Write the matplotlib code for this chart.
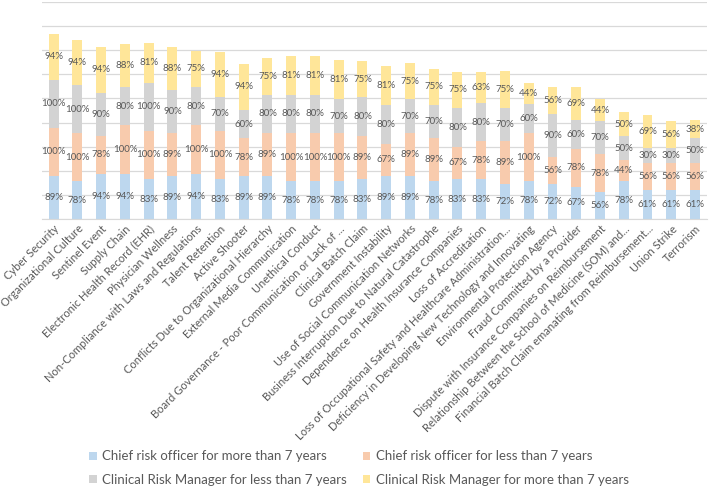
import numpy as np
import matplotlib.pyplot as plt

plt.rcParams['font.family'] = ['Lato', 'DejaVu Sans']

# Risk categories (x axis)
categories = [
    'Cyber Security', 'Organizational Culture', 'Sentinel Event', 'Supply Chain',
    'Electronic Health Record (EHR)', 'Physician Wellness',
    'Non-Compliance with Laws and Regulations', 'Talent Retention',
    'Active Shooter', 'Conflicts Due to Organizational Hierarchy',
    'External Media Communication', 'Unethical Conduct',
    'Board Governance - Poor Communication or Lack of ...',
    'Clinical Batch Claim', 'Government Instability',
    'Use of Social Communication Networks',
    'Business Interruption Due to Natural Catastrophe',
    'Dependence on Health Insurance Companies', 'Loss of Accreditation',
    'Loss of Occupational Safety and Healthcare Administration...',
    'Deficiency in Developing New Technology and Innovating',
    'Environmental Protection Agency', 'Fraud Committed by a Provider',
    'Dispute with Insurance Companies on Reimbursement',
    'Relationship Between the School of Medicine (SOM) and...',
    'Financial Batch Claim emanating from Reimbursement...',
    'Union Strike', 'Terrorism',
]

# Percentages per group
cro_more = [89, 78, 94, 94, 83, 89, 94, 83, 89, 89, 78, 78, 78, 83,
            89, 89, 78, 83, 83, 72, 78, 72, 67, 56, 78, 61, 61, 61]
cro_less = [100, 100, 78, 100, 100, 89, 100, 100, 78, 89, 100, 100, 100, 89,
            67, 89, 89, 67, 78, 89, 100, 56, 78, 78, 44, 56, 56, 56]
crm_less = [100, 100, 90, 80, 100, 90, 80, 70, 60, 80, 80, 80, 70, 80,
            80, 70, 70, 80, 80, 70, 60, 90, 60, 70, 50, 30, 30, 50]
crm_more = [94, 94, 94, 88, 81, 88, 75, 94, 94, 75, 81, 81, 81, 75,
            81, 75, 75, 75, 63, 75, 44, 56, 69, 44, 50, 69, 56, 38]

series = [
    ('Chief risk officer for more than 7 years', cro_more, '#BDD7EE'),
    ('Chief risk officer for less than 7 years', cro_less, '#F8CBAD'),
    ('Clinical Risk Manager for less than 7 years', crm_less, '#D3D3D3'),
    ('Clinical Risk Manager for more than 7 years', crm_more, '#FFE699'),
]

fig = plt.figure(figsize=(7.09, 4.9), dpi=100)
ax = fig.add_axes([0.059, 0.553, 0.938, 0.443])

x = np.arange(len(categories))
bottom = np.zeros(len(categories))
handles = []
for name, vals, col in series:
    vals = np.array(vals, dtype=float)
    b = ax.bar(x, vals, 0.42, bottom=bottom, color=col, label=name, zorder=2)
    handles.append(b)
    for xi, v, b0 in zip(x, vals, bottom):
        ax.text(xi, b0 + v / 2, f'{int(v)}%', ha='center', va='center',
                fontsize=7, color='#595959', zorder=3)
    bottom += vals

ax.set_xlim(-0.5, len(categories) - 0.5)
ax.set_ylim(0, 450)
ax.set_yticks(np.arange(0, 451, 50))
ax.yaxis.grid(True, color='#D9D9D9', linewidth=0.9, zorder=0)
ax.tick_params(axis='y', left=False, labelleft=False)
ax.tick_params(axis='x', length=0, pad=3)
for s in ['top', 'right', 'left']:
    ax.spines[s].set_visible(False)
ax.spines['bottom'].set_color('#D9D9D9')
ax.set_xticks(x)
ax.set_xticklabels(categories, rotation=45, ha='right', rotation_mode='anchor',
                   fontsize=8, color='#595959')

order = [handles[0], handles[2], handles[1], handles[3]]
fig.legend(order, [h.get_label() for h in order], ncol=2, loc='center',
           bbox_to_anchor=(0.506, 0.045), frameon=False, fontsize=9.5,
           labelcolor='#595959', handlelength=0.6, handleheight=0.6,
           handletextpad=0.4, columnspacing=1.2, labelspacing=0.85)

fig.savefig('out.png', dpi=100)
